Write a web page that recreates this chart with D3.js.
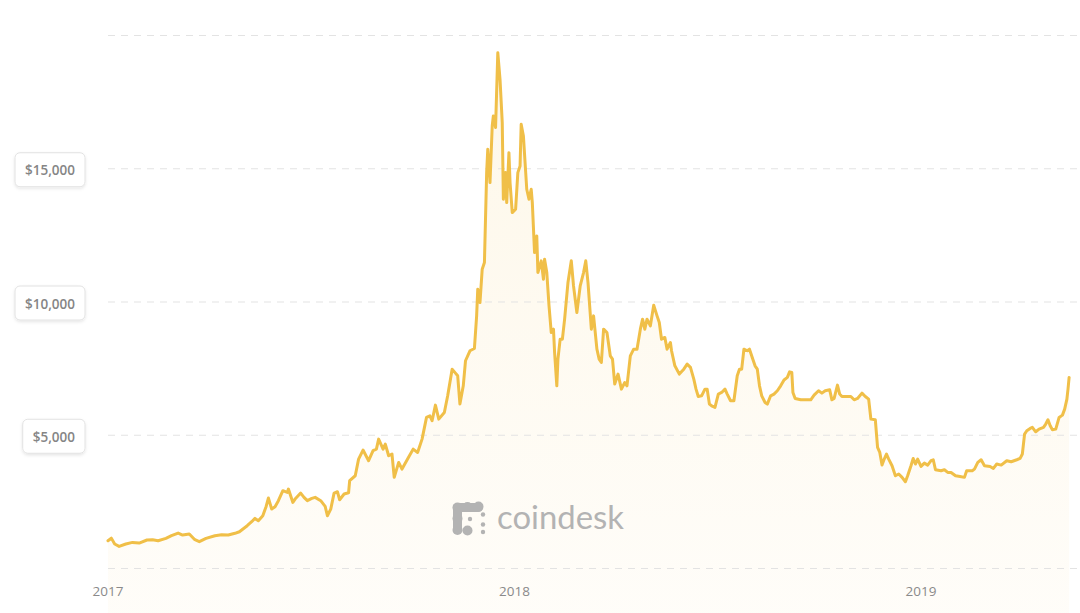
<!DOCTYPE html>
<html>
<head>
<meta charset="utf-8">
<script src="https://cdn.jsdelivr.net/npm/d3@7"></script>
<style>
  html, body { margin: 0; padding: 0; background: #ffffff; }
  svg { display: block; }
</style>
</head>
<body>
<svg id="chart" width="1080" height="613"></svg>
<script>
// ---------------- DATA ----------------
const days2017 = ["01-01","01-04","01-07","01-11","01-17","01-23","01-29","02-05","02-10","02-15","02-22","02-27",
  "03-05","03-09","03-15","03-20","03-24","03-30","04-07","04-13","04-19","04-25","04-29","05-06","05-10","05-13",
  "05-16","05-20","05-23","05-25","05-28","05-31","06-03","06-07","06-11","06-12","06-16","06-18","06-23","06-26",
  "06-29","07-03","07-06","07-11","07-15","07-17","07-20","07-23","07-26","07-28","08-01","08-05","08-06","08-11",
  "08-14","08-18","08-23","08-27","08-30","09-01","09-05","09-07","09-10","09-13","09-15","09-19","09-22","09-27",
  "10-02","10-06","10-10","10-14","10-17","10-19","10-22","10-25","10-30","11-02","11-06","11-09","11-11","11-13",
  "11-16","11-18","11-22","11-26","11-28","11-29","12-01","12-03","12-05","12-07","12-08","12-10","12-12","12-13",
  "12-15","12-17","12-19","12-21","12-22","12-24","12-25","12-27","12-28","12-30"];
const usd2017 = [1040,1140,920,830,920,980,955,1070,1080,1040,1130,1230,
  1330,1255,1295,1080,1005,1130,1230,1270,1255,1320,1380,1605,1755,1880,
  1795,1980,2330,2645,2230,2320,2545,2920,2855,2980,2480,2605,2830,2670,
  2545,2630,2670,2545,2330,1980,2230,2830,2880,2580,2795,2840,3300,3480,
  4105,4445,4045,4420,4480,4855,4480,4670,4230,4295,3420,3980,3730,4105,
  4480,4355,4855,5670,5730,5545,6130,5605,5855,6480,7480,7330,7230,6170,
  6855,7795,8170,8255,9480,10480,9980,11230,11480,14855,15730,14480,16605,16980,
  16545,19355,18355,16730,13855,14855,13730,15605,14480,13355];

const days2018 = ["01-02","01-04","01-06","01-07","01-09","01-12","01-14","01-16","01-17","01-19","01-21","01-22",
  "01-25","01-27","01-28","01-30","02-01","02-03","02-05","02-06","02-08","02-09","02-11","02-13","02-15","02-18",
  "02-21","02-23","02-26","03-01","03-04","03-06","03-08","03-11","03-13","03-16","03-18","03-20","03-22","03-25",
  "03-28","03-30","04-01","04-04","04-07","04-10","04-12","04-15","04-18","04-21","04-24","04-26","04-28","04-30",
  "05-03","05-06","05-09","05-11","05-13","05-16","05-18","05-21","05-22","05-25","05-29","06-02","06-05","06-08",
  "06-11","06-13","06-15","06-18","06-21","06-23","06-25","06-27","06-30","07-03","07-06","07-09","07-11","07-14",
  "07-17","07-20","07-22","07-24","07-26","07-29","07-31","08-03","08-05","08-07","08-09","08-11","08-14","08-16",
  "08-19","08-22","08-25","08-28","08-31","09-03","09-05","09-07","09-08","09-10","09-15","09-24","09-27","10-01",
  "10-04","10-07","10-11","10-13","10-15","10-18","10-20","10-22","10-27","10-30","11-02","11-05","11-09","11-12",
  "11-15","11-17","11-21","11-23","11-25","11-27","11-29","12-01","12-03","12-06","12-09","12-12","12-15","12-18",
  "12-20","12-23","12-25","12-27","12-29"];
const usd2018 = [13480,14855,15105,16670,16230,14230,13855,14230,13730,11855,12480,11105,
  11545,10855,11605,11105,9855,8855,8980,8105,6855,7855,8605,8605,9355,10730,
  11545,10605,9605,10605,11105,11545,10730,8980,9480,8230,7855,7730,8980,8855,
  7980,7855,6920,7295,6730,6980,6855,7980,8230,8230,8980,9355,8980,9355,
  9105,9880,9480,9230,8605,8670,8230,8480,8170,7605,7295,7480,7670,7545,
  7105,6730,6455,6480,6730,6730,6170,6105,6045,6545,6605,6730,6545,6295,
  6295,7230,7480,7480,8230,8170,8230,7855,7605,7480,6855,6480,6230,6170,
  6480,6545,6670,6855,7075,7170,7380,7355,6605,6380,6330,6330,6505,6670,
  6580,6670,6705,6330,6380,6880,6545,6455,6455,6455,6330,6380,6580,6455,
  6355,5605,5580,4545,4355,3880,4105,4295,4105,3855,3480,3545,3420,3255,
  3480,3855,4130,3920,4105];

const days2019 = ["01-01","01-04","01-07","01-10","01-12","01-14","01-19","01-22","01-25","01-28","02-01","02-05",
  "02-09","02-11","02-16","02-18","02-21","02-24","02-27","03-04","03-07","03-10","03-14","03-19","03-23","03-28",
  "03-31","04-02","04-04","04-06","04-09","04-11","04-14","04-17","04-21","04-23","04-25","04-27","04-29","05-02",
  "05-05","05-08","05-10","05-12","05-13","05-14"];
const usd2019 = [3830,3955,3880,4045,4080,3705,3670,3705,3605,3605,3480,3455,
  3420,3670,3670,3730,3980,4080,3855,3830,3755,3920,3880,4045,4005,4080,
  4130,4295,5045,5170,5255,5295,5130,5230,5295,5420,5580,5355,5205,5230,
  5670,5755,5980,6355,6730,7170];

const gridValues = [0, 5000, 10000, 15000, 20000];
const yTickValues = [5000, 10000, 15000];
const yTickLabels = ["$5,000", "$10,000", "$15,000"];
const xTickLabels = ["2017", "2018", "2019"];
const watermarkText = "coindesk";

// ---------------- BUILD ----------------
const parse = d3.timeParse("%Y-%m-%d");
const series = [];
[[2017, days2017, usd2017], [2018, days2018, usd2018], [2019, days2019, usd2019]].forEach(([yr, ds, vs]) => {
  ds.forEach((d, i) => series.push({ date: parse(yr + "-" + d), value: vs[i] }));
});

const svg = d3.select("#chart");
const W = 1080, H = 613;

const x = d3.scaleTime()
  .domain([parse("2017-01-01"), parse("2019-01-01")])
  .range([108, 921]);
const y = d3.scaleLinear()
  .domain([0, 20000])
  .range([568.5, 35.5]);

const defs = svg.append("defs");
const grad = defs.append("linearGradient")
  .attr("id", "areaGrad")
  .attr("gradientUnits", "userSpaceOnUse")
  .attr("x1", 0).attr("x2", 0).attr("y1", 40).attr("y2", H);
grad.append("stop").attr("offset", "0%").attr("stop-color", "rgb(245,200,95)").attr("stop-opacity", 0.14);
grad.append("stop").attr("offset", "100%").attr("stop-color", "rgb(245,200,95)").attr("stop-opacity", 0.04);

const shadow = defs.append("filter").attr("id", "boxShadow")
  .attr("x", "-20%").attr("y", "-30%").attr("width", "140%").attr("height", "170%");
shadow.append("feDropShadow")
  .attr("dx", 0).attr("dy", 1.5).attr("stdDeviation", 1.5)
  .attr("flood-color", "#000").attr("flood-opacity", 0.10);

// area
const area = d3.area()
  .x(d => x(d.date))
  .y0(H)
  .y1(d => y(d.value));
svg.append("path")
  .datum(series)
  .attr("d", area)
  .attr("fill", "url(#areaGrad)");

// grid lines
svg.append("g")
  .selectAll("line")
  .data(gridValues)
  .join("line")
  .attr("x1", 108).attr("x2", W)
  .attr("y1", d => y(d)).attr("y2", d => y(d))
  .attr("stroke", "#e3e3e3")
  .attr("stroke-width", 1)
  .attr("stroke-dasharray", "7,6");

// watermark
const wm = svg.append("g").attr("fill", "#b3b3b3");
const bigDots = [[457.5,507.5],[467.5,507],[478.5,506.5],[457.5,518.5],[457.5,530],[467.5,530.5]];
const smallDots = [[470,519],[483,514.5],[483,524.5],[483,532]];
wm.selectAll("circle.big").data(bigDots).join("circle")
  .attr("class","big").attr("cx", d => d[0]).attr("cy", d => d[1]).attr("r", 5);
wm.append("rect").attr("x", 453).attr("y", 503).attr("width", 9).attr("height", 31).attr("rx", 4.5);
wm.append("rect").attr("x", 453).attr("y", 503).attr("width", 30).attr("height", 9).attr("rx", 4.5);
wm.selectAll("circle.small").data(smallDots).join("circle")
  .attr("class","small").attr("cx", d => d[0]).attr("cy", d => d[1]).attr("r", 2.2);
wm.append("text")
  .attr("x", 497).attr("y", 528.5)
  .attr("font-family", "Lato, 'Open Sans', sans-serif")
  .attr("font-size", 32)
  .attr("textLength", 127)
  .attr("lengthAdjust", "spacingAndGlyphs")
  .text(watermarkText);

// line
const line = d3.line()
  .x(d => x(d.date))
  .y(d => y(d.value));
svg.append("path")
  .datum(series)
  .attr("d", line)
  .attr("fill", "none")
  .attr("stroke", "#f0bf48")
  .attr("stroke-width", 3)
  .attr("stroke-linejoin", "round")
  .attr("stroke-linecap", "round");

// y labels in boxes
const yl = svg.append("g");
yTickValues.forEach((v, i) => {
  const g = yl.append("g");
  const t = g.append("text")
    .attr("font-family", "'Open Sans', sans-serif")
    .attr("font-size", 13.5)
    .attr("font-weight", 600)
    .attr("fill", "#858585")
    .attr("text-anchor", "middle")
    .attr("dominant-baseline", "central")
    .text(yTickLabels[i]);
  const bw = t.node().getComputedTextLength() + 20;
  const right = 85, cy = y(v) + 1;
  g.insert("rect", "text")
    .attr("x", right - bw).attr("y", cy - 17)
    .attr("width", bw).attr("height", 34)
    .attr("rx", 5)
    .attr("fill", "#fff")
    .attr("stroke", "#e2e2e2")
    .attr("stroke-width", 1)
    .attr("filter", "url(#boxShadow)");
  t.attr("x", right - bw / 2).attr("y", cy + 0.5);
});

// x labels
svg.append("g")
  .selectAll("text")
  .data(xTickLabels)
  .join("text")
  .attr("x", d => x(parse(d + "-01-01")))
  .attr("y", 591)
  .attr("text-anchor", "middle")
  .attr("dominant-baseline", "central")
  .attr("font-family", "'Open Sans', sans-serif")
  .attr("font-size", 13.5)
  .attr("fill", "#8a8a8a")
  .text(d => d);
</script>
</body>
</html>
